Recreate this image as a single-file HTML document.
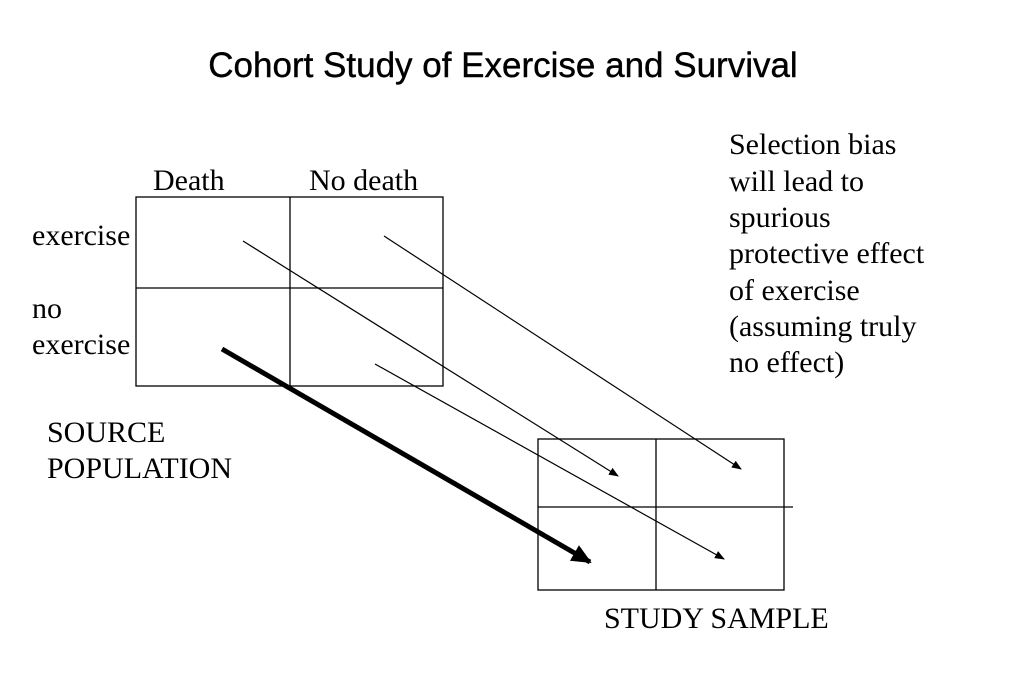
<!DOCTYPE html>
<html><head><meta charset="utf-8"><style>
html,body{margin:0;padding:0;background:#fff}
svg{display:block}
.s{font-family:"Liberation Serif",serif;font-size:30px;fill:#000}
</style></head><body>
<svg width="1023" height="682" viewBox="0 0 1023 682">
<defs>
<marker id="ah" markerWidth="10" markerHeight="8" refX="9" refY="4" orient="auto" markerUnits="userSpaceOnUse"><path d="M0,0 L10,4 L0,8 z" fill="#000"/></marker>
<marker id="ahb" markerWidth="20" markerHeight="18" refX="18" refY="9" orient="auto" markerUnits="userSpaceOnUse"><path d="M0,0 L20,9 L0,18 z" fill="#000"/></marker>
</defs>
<text x="503" y="77" text-anchor="middle" font-family="Liberation Sans, sans-serif" font-size="35" fill="#000" stroke="#000" stroke-width="0.4">Cohort Study of Exercise and Survival</text>
<g stroke="#000" stroke-width="1.3" fill="none">
<rect x="136" y="197" width="307" height="189"/>
<line x1="290" y1="197" x2="290" y2="386"/>
<line x1="136" y1="288" x2="443" y2="288"/>
</g>
<g stroke="#000" stroke-width="1.3" fill="none">
<rect x="538" y="439" width="246" height="151"/>
<line x1="656" y1="439" x2="656" y2="590"/>
<line x1="538" y1="507" x2="793" y2="507"/>
</g>
<g stroke="#000" stroke-width="1.2">
<line x1="243" y1="241" x2="618" y2="476" marker-end="url(#ah)"/>
<line x1="384" y1="236" x2="741" y2="469" marker-end="url(#ah)"/>
<line x1="375" y1="364" x2="724" y2="559" marker-end="url(#ah)"/>
</g>
<line x1="222" y1="349" x2="590" y2="562" stroke="#000" stroke-width="5" marker-end="url(#ahb)"/>
<text class="s" x="153" y="190">Death</text>
<text class="s" x="309" y="190">No death</text>
<text class="s" x="32" y="245">exercise</text>
<text class="s" x="32" y="318">no<tspan x="32" y="354">exercise</tspan></text>
<text class="s" x="47" y="442">SOURCE<tspan x="47" y="478">POPULATION</tspan></text>
<text class="s" x="729" y="154">Selection bias<tspan x="729" y="191">will lead to</tspan><tspan x="729" y="227">spurious</tspan><tspan x="729" y="263">protective effect</tspan><tspan x="729" y="300">of exercise</tspan><tspan x="729" y="336">(assuming truly</tspan><tspan x="729" y="372">no effect)</tspan></text>
<text class="s" x="604" y="628">STUDY SAMPLE</text>
</svg>
</body></html>
